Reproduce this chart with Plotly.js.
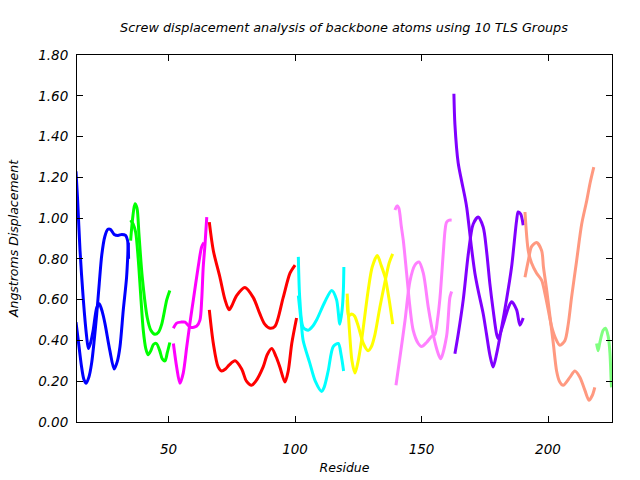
<!DOCTYPE html>
<html>
<head>
<meta charset="utf-8">
<script src="https://cdn.plot.ly/plotly-3.0.1.min.js"></script>
<style>html,body{margin:0;padding:0;background:#fff}#chart{width:640px;height:480px}</style>
</head>
<body>
<div id="chart"></div>
<script>
// TLS group colours
const groupColors = ["#0000ff","#00ff00","#ff00ff","#ff0000","#00ffff","#ffff00","#ff80ff","#8000ff","#ff9980","#80ff80"];

// Group 1 (blue)
const g1aX = [13.4,14.0,15.0,16.3,17.6,18.3,19.2,20.2,21.6,22.6,23.8,24.9,26.8,28.5,29.8,30.8,32.1,33.4,34.1];
const g1aY = [1.23,1.10,0.84,0.60,0.42,0.36,0.39,0.45,0.56,0.58,0.54,0.48,0.35,0.26,0.30,0.37,0.55,0.71,0.88];
const g1bX = [13.4,14.5,15.5,16.5,17.4,18.5,19.6,20.6,21.6,22.6,23.6,24.8,26.0,27.0,28.5,30.0,31.5,33.0,33.8,34.2];
const g1bY = [0.49,0.38,0.28,0.21,0.19,0.22,0.29,0.40,0.53,0.68,0.82,0.91,0.945,0.945,0.92,0.915,0.92,0.915,0.89,0.80];
// Group 2 (green)
const g2aX = [35.0,35.8,36.7,37.5,38.3,39.6,41.6,43.0,44.6,46.0,47.3,49.3,50.5];
const g2aY = [0.89,1.00,1.07,1.05,0.92,0.71,0.51,0.45,0.43,0.44,0.48,0.60,0.645];
const g2bX = [35.0,36.0,37.0,38.0,39.0,40.0,41.0,41.9,43.0,44.0,45.2,46.5,47.5,48.6,49.5,50.5];
const g2bY = [0.99,0.97,0.93,0.80,0.62,0.45,0.36,0.33,0.35,0.38,0.385,0.35,0.31,0.30,0.34,0.39];
// Group 3 (magenta)
const g3aX = [51.9,53.2,55.0,56.5,58.5,60.0,61.1,62.4,63.1,63.7,64.4,65.1];
const g3aY = [0.46,0.485,0.49,0.49,0.465,0.465,0.47,0.50,0.60,0.76,0.87,1.005];
const g3bX = [51.9,53.2,54.5,55.8,57.2,58.5,59.8,61.7,63.1,64.0];
const g3bY = [0.385,0.27,0.19,0.24,0.37,0.49,0.60,0.76,0.86,0.88];
// Group 4 (red)
const g4aX = [66.1,67.7,70.3,72.3,73.9,75.0,76.9,80.2,83.5,86.1,88.0,90.1,92.1,95.3,98.0,100.0];
const g4aY = [0.98,0.84,0.71,0.60,0.55,0.57,0.62,0.66,0.61,0.53,0.48,0.46,0.47,0.61,0.73,0.77];
const g4bX = [66.1,67.7,69.6,71.0,72.5,74.0,76.3,78.9,80.8,82.8,84.5,87.4,89.0,90.8,92.5,94.0,96.0,97.3,98.7,100.6];
const g4bY = [0.55,0.385,0.27,0.25,0.26,0.28,0.30,0.26,0.20,0.18,0.20,0.27,0.33,0.36,0.32,0.27,0.196,0.25,0.385,0.51];
// Group 5 (cyan)
const g5aX = [101.3,101.9,103.2,105.2,107.0,108.5,111.8,114.5,116.4,117.7,118.6,119.1,119.3];
const g5aY = [0.81,0.60,0.465,0.45,0.47,0.50,0.59,0.645,0.60,0.48,0.55,0.645,0.76];
const g5bX = [101.3,102.5,103.2,105.8,108.0,110.5,111.5,113.1,115.1,117.1,118.2,119.2];
const g5bY = [0.62,0.48,0.40,0.29,0.20,0.15,0.17,0.25,0.37,0.385,0.33,0.25];
// Group 6 (yellow)
const g6aX = [120.6,121.2,122.4,123.5,125.0,127.0,128.9,130.2,131.6,133.5,135.6,137.2,138.6];
const g6aY = [0.60,0.52,0.53,0.52,0.47,0.385,0.35,0.37,0.43,0.56,0.69,0.78,0.825];
const g6bX = [120.6,121.5,122.5,123.7,124.8,126.3,128.9,130.5,132.5,134.0,135.6,137.2,138.6];
const g6bY = [0.63,0.45,0.30,0.24,0.29,0.40,0.645,0.76,0.817,0.77,0.71,0.60,0.48];
// Group 7 (pink)
const g7aX = [139.9,141.5,143.5,145.4,147.4,149.0,150.7,152.7,154.6,156.6,157.6,159.9,161.2,161.9];
const g7aY = [0.18,0.32,0.50,0.69,0.77,0.785,0.73,0.56,0.43,0.335,0.31,0.42,0.61,0.64];
const g7bX = [139.5,140.3,141.0,142.0,142.8,144.1,145.4,146.7,148.7,150.0,152.0,154.0,155.3,156.3,157.3,158.6,159.3,159.9,161.0,161.9];
const g7bY = [1.04,1.06,1.05,0.96,0.89,0.73,0.565,0.45,0.385,0.37,0.39,0.42,0.43,0.50,0.61,0.83,0.94,0.98,0.99,0.99];
// Group 8 (purple)
const g8aX = [162.8,163.2,164.5,165.8,167.2,167.9,169.8,171.1,172.4,174.4,175.7,177.0,178.3,179.7,181.7,183.6,185.6,187.6,188.2,189.2,190.2];
const g8aY = [1.61,1.46,1.27,1.185,1.10,1.05,0.85,0.73,0.645,0.53,0.43,0.33,0.27,0.335,0.466,0.60,0.76,0.99,1.03,1.02,0.965];
const g8bX = [163.2,164.5,166.5,168.5,170.4,172.4,174.4,175.7,177.0,178.3,179.7,180.3,182.3,184.3,185.6,187.6,188.9,190.2];
const g8bY = [0.335,0.43,0.60,0.825,0.97,1.005,0.955,0.84,0.68,0.55,0.43,0.41,0.48,0.56,0.59,0.55,0.475,0.51];
// Group 9 (salmon)
const g9aX = [190.9,192.2,193.5,195.5,197.5,198.2,199.5,200.8,202.1,203.4,204.5,206.0,208.7,210.6,212.6,214.6,216.2,217.5,218.5];
const g9aY = [0.71,0.79,0.86,0.88,0.84,0.76,0.645,0.515,0.385,0.25,0.20,0.18,0.22,0.25,0.22,0.155,0.107,0.13,0.17];
const g9bX = [190.9,192.2,193.5,195.5,197.5,198.8,200.1,201.4,203.0,204.7,206.7,208.0,209.3,211.3,213.3,215.3,216.6,218.1];
const g9bY = [1.03,0.84,0.78,0.73,0.695,0.63,0.55,0.47,0.41,0.376,0.40,0.48,0.61,0.79,0.97,1.085,1.17,1.25];
// Group 10 (light green)
const g10aX = [219.2,219.8,220.5,221.8,222.7,223.8,224.5,224.9,225.1];
const g10aY = [0.385,0.35,0.39,0.45,0.46,0.42,0.335,0.22,0.17];

const seriesX = [[g1aX,g1bX],[g2aX,g2bX],[g3aX,g3bX],[g4aX,g4bX],[g5aX,g5bX],[g6aX,g6bX],[g7aX,g7bX],[g8aX,g8bX],[g9aX,g9bX],[g10aX]];
const seriesY = [[g1aY,g1bY],[g2aY,g2bY],[g3aY,g3bY],[g4aY,g4bY],[g5aY,g5bY],[g6aY,g6bY],[g7aY,g7bY],[g8aY,g8bY],[g9aY,g9bY],[g10aY]];

const xTicks = [50,100,150,200];
const yTicks = [0,0.2,0.4,0.6,0.8,1.0,1.2,1.4,1.6,1.8];

const traces = [];
seriesX.forEach((grp, gi) => {
  grp.forEach((xs, si) => {
    traces.push({
      x: xs, y: seriesY[gi][si], type: 'scatter', mode: 'lines',
      line: {color: groupColors[gi], width: 3, shape: 'spline', smoothing: 0.8},
      showlegend: false, hoverinfo: 'none'
    });
  });
});

const fam = 'DejaVu Sans, sans-serif';
const tickFont = {family: fam, size: 13.5, color: '#000', style: 'italic'};
const titleFont = {family: fam, size: 12.8, color: '#000', style: 'italic'};
const axTitleFont = {family: fam, size: 12.5, color: '#000', style: 'italic'};
const axisCommon = {
  showline: true, linecolor: '#000', linewidth: 1, mirror: 'allticks',
  ticks: 'inside', ticklen: 6, tickcolor: '#000', tickwidth: 1,
  showgrid: false, zeroline: false, tickfont: tickFont
};
const layout = {
  width: 640, height: 480,
  margin: {l: 77, r: 28, t: 55, b: 58},
  paper_bgcolor: '#fff', plot_bgcolor: '#fff',
  title: {text: 'Screw displacement analysis of backbone atoms using 10 TLS Groups', font: titleFont, x: 0.5375, xanchor: 'center', y: 0.943, yanchor: 'middle'},
  xaxis: Object.assign({}, axisCommon, {range: [13.8, 225.3], tickvals: xTicks, ticktext: xTicks.map(String),
    ticklabelstandoff: 15,
    title: {text: 'Residue', font: axTitleFont, standoff: 7}}),
  yaxis: Object.assign({}, axisCommon, {range: [0, 1.8], tickvals: yTicks, ticktext: yTicks.map(v => v.toFixed(2)),
    ticklabelstandoff: 5,
    title: {text: 'Angstroms Displacement', font: axTitleFont, standoff: 16}}),
  showlegend: false
};
Plotly.newPlot('chart', traces, layout, {staticPlot: true, displayModeBar: false});
</script>
</body>
</html>
